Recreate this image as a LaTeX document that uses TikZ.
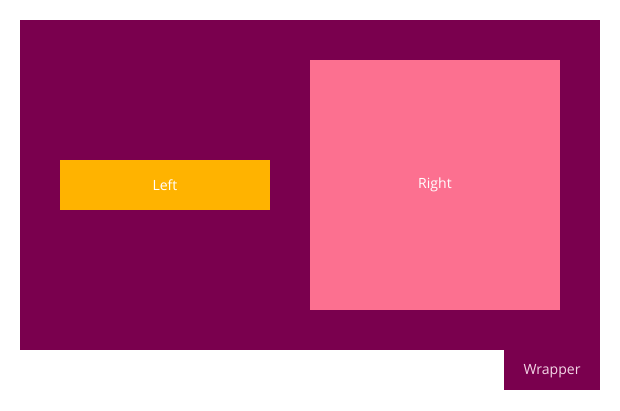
\documentclass[tikz,border=0pt]{standalone}
\usepackage{fontspec}
\setmainfont{Open Sans}
\usetikzlibrary{positioning}
\definecolor{wrapbg}{HTML}{7A004E}
\definecolor{leftbg}{HTML}{FFB300}
\definecolor{rightbg}{HTML}{FC7090}
\definecolor{wraptxt}{HTML}{F3D6E6}
\begin{document}
\begin{tikzpicture}[x=0.03cm,y=-0.03cm,
  box/.style={inner sep=0pt,outer sep=0pt,text=white,font=\fontsize{12}{14}\selectfont},
  lab/.style={font=\fontsize{12}{14}\selectfont}]

%% page and margins
\useasboundingbox[fill=white] (0,0) rectangle (620,410);

%% wrapper
\fill[wrapbg] (20,20) rectangle (600,350);
\fill[wrapbg] (504,350) rectangle (600,390);
\node[lab,text=wraptxt] (wraplabel) at (552,371) {Wrapper};

%% children
\node[box,fill=leftbg,minimum width=6.3cm,minimum height=1.5cm] (left) at (165,185) {Left};
\node[box,fill=rightbg,minimum width=7.5cm,minimum height=7.5cm] (right) at (435,185) {\raisebox{-1pt}{Right}};
\end{tikzpicture}
\end{document}
